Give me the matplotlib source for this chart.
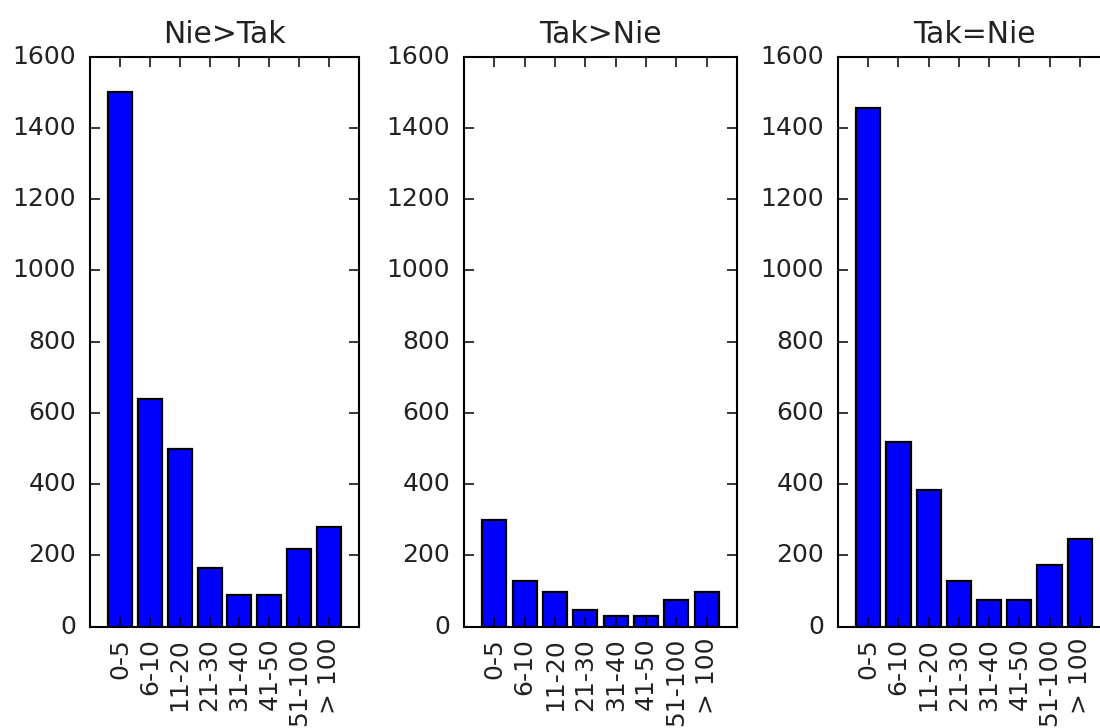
import matplotlib
matplotlib.use("Agg")
import matplotlib.pyplot as plt

plt.style.use('classic')

# counts per bucket for each answer group
bins = ['0-5', '6-10', '11-20', '21-30', '31-40', '41-50', '51-100', '> 100']
nie_tak = [1500, 640, 500, 165, 90, 90, 218, 280]
tak_nie = [300, 128, 98, 46, 29, 29, 76, 98]
tak_eq_nie = [1455, 519, 385, 128, 76, 76, 173, 247]
titles = ['Nie>Tak', 'Tak>Nie', 'Tak=Nie']

W, H = 1100, 728
fig = plt.figure(figsize=(W / 100, H / 100), dpi=100, facecolor='white')

# axes boxes in pixels (left, width); the last one runs past the right edge
boxes = [(90, 269), (464, 273), (838, 272)]
bottom, top = 626.7, 56.7

for (left, width), vals, title in zip(boxes, [nie_tak, tak_nie, tak_eq_nie], titles):
    ax = fig.add_axes([left / W, 1 - bottom / H, width / W, (bottom - top) / H])
    ax.bar(range(len(bins)), vals, width=0.8, align='center',
           color='blue', edgecolor='black', linewidth=1.6)
    ax.set_xlim(-1, 8)
    ax.set_ylim(0, 1600)
    ax.set_xticks(range(len(bins)))
    ax.set_xticklabels(bins, rotation=90)
    ax.set_yticks(range(0, 1601, 200))
    for s in ax.spines.values():
        s.set_linewidth(1.5)
    ax.tick_params(axis='both', direction='in', length=7.5, width=1.1,
                   labelsize=18, labelcolor='#222222', top=True, right=True)
    ax.tick_params(axis='x', pad=8)
    ax.tick_params(axis='y', pad=10)
    ax.set_title(title, fontsize=21.5, pad=10, color='#222222')

plt.savefig("out.png", dpi=100, facecolor='white')
